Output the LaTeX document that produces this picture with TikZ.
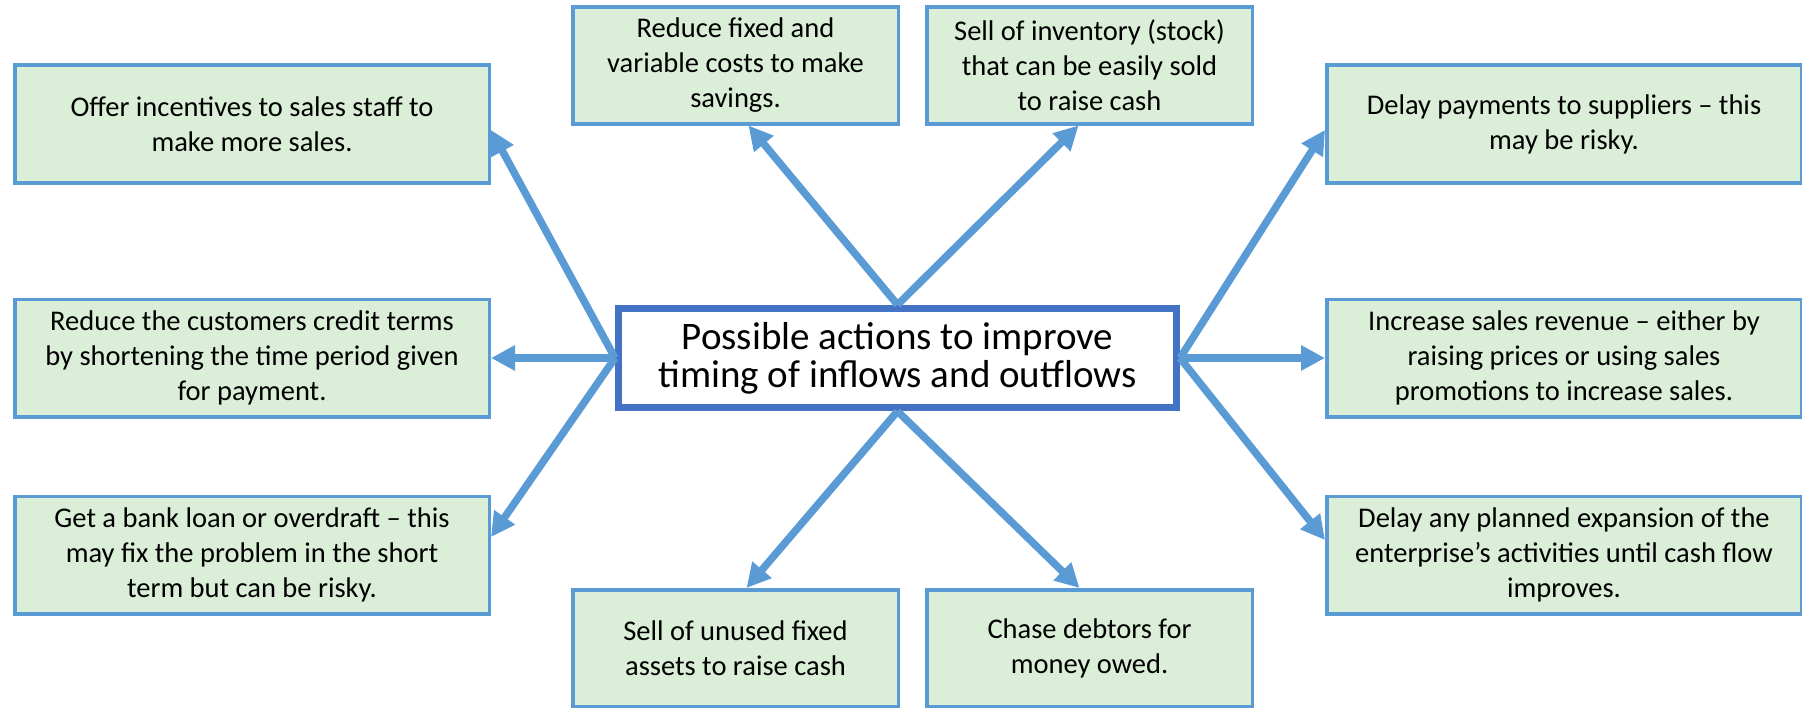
\documentclass[tikz,border=0pt]{standalone}
\usepackage{fontspec}
\setmainfont{Carlito}
\usetikzlibrary{positioning, arrows.meta, calc}

\definecolor{arrowblue}{RGB}{91,155,213}
\definecolor{hubblue}{RGB}{68,114,196}
\definecolor{notegreen}{RGB}{218,238,216}

\tikzset{
  action/.style={draw=arrowblue, line width=3.5pt, fill=notegreen, align=center, inner sep=0pt, font=\fontsize{28.5}{35}\selectfont},
  sidebox/.style={action, minimum width=474.5pt, minimum height=117.5pt},
  midbox/.style={action, minimum width=325.5pt, minimum height=116.5pt},
  hub/.style={draw=hubblue, line width=7pt, fill=white, align=center, inner sep=0pt, minimum width=558pt, minimum height=99.5pt, font=\fontsize{39}{38}\selectfont},
  link/.style={draw=arrowblue, line width=7.5pt, -{Triangle[length=24pt,width=24pt]}}
}

\begin{document}
\begin{tikzpicture}[x=1pt, y=-1pt]
\useasboundingbox (0,0) rectangle (1802,709);

\node[hub](hub) at (897.5,358){Possible actions to improve\\timing of inflows and outflows};

% left column
\node[sidebox](credit)[left = 124pt of hub]{Reduce the customers credit terms\\by shortening the time period given\\for payment.};
\node[sidebox](offer)[above = 113pt of credit]{Offer incentives to sales staff to\\make more sales.};
\node[sidebox](loan)[below = 76pt of credit]{Get a bank loan or overdraft – this\\may fix the problem in the short\\term but can be risky.};

% right column
\node[sidebox](revenue)[right = 145pt of hub]{Increase sales revenue – either by\\raising prices or using sales\\promotions to increase sales.};
\node[sidebox](payments)[above = 113pt of revenue]{Delay payments to suppliers – this\\may be risky.};
\node[sidebox](expansion)[below = 76pt of revenue]{Delay any planned expansion of the\\enterprise’s activities until cash flow\\improves.};

% top and bottom rows
\node[midbox](savings) at (735.5,65.5){Reduce fixed and\\variable costs to make\\savings.};
\node[midbox](inventory)[right = 25pt of savings]{Sell of inventory (stock)\\that can be easily sold\\to raise cash};
\node[midbox](assets) at (735.5,648){Sell of unused fixed\\assets to raise cash};
\node[midbox](debtors)[right = 25pt of assets]{Chase debtors for\\money owed.};

\draw[link] (hub.north) -- ($(savings.south)+(13,0)$);
\draw[link] (hub.north) -- ($(inventory.south)+(-11,0)$);
\draw[link] (hub.west) -- ($(offer.east)+(0,6)$);
\draw[link] (hub.west) -- (credit.east);
\draw[link] (hub.west) -- ($(loan.east)+(0,-18)$);
\draw[link] (hub.east) -- ($(payments.west)+(0,6)$);
\draw[link] (hub.east) -- (revenue.west);
\draw[link] (hub.east) -- ($(expansion.west)+(0,-15)$);
\draw[link] (hub.south) -- ($(assets.north)+(11,0)$);
\draw[link] (hub.south) -- ($(debtors.north)+(-10,0)$);
\end{tikzpicture}
\end{document}
